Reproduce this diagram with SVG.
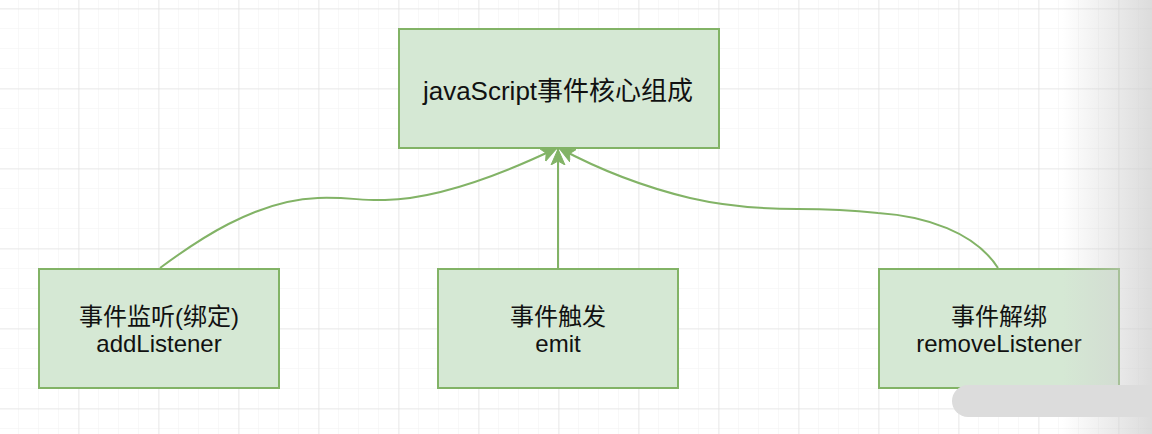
<svg xmlns="http://www.w3.org/2000/svg" width="1152" height="434" viewBox="0 0 1152 434">
  <style>
    .node rect { fill: #d5e8d4; stroke: #82b366; stroke-width: 2; }
    .node text { font-family: "Liberation Sans", "Noto Sans CJK SC", sans-serif; font-size: 24px; fill: #111111; text-anchor: middle; }
    .edge { fill: none; stroke: #82b366; stroke-width: 2; marker-end: url(#arrow); }
  </style>
  <defs>
    <pattern id="minor" width="20" height="20" patternUnits="userSpaceOnUse" x="18" y="8">
      <path d="M0,0 H20 M0,0 V20" fill="none" stroke="#f1f1f1" stroke-width="1"/>
    </pattern>
    <pattern id="major" width="80" height="80" patternUnits="userSpaceOnUse" x="78.5" y="8.5">
      <path d="M0,0 H80 M0,0 V80" fill="none" stroke="#dadada" stroke-width="1"/>
    </pattern>
    <linearGradient id="fade" x1="0" y1="0" x2="1" y2="0">
      <stop offset="0" stop-color="#d0d0d0" stop-opacity="0"/>
      <stop offset="1" stop-color="#d0d0d0" stop-opacity="0.75"/>
    </linearGradient>
    <marker id="arrow" markerUnits="userSpaceOnUse" markerWidth="18" markerHeight="16" viewBox="0 -8 18 16" refX="16" refY="0" orient="auto">
      <path d="M0,-7 L16,0 L0,7 L4,0 Z" fill="#82b366" stroke="#82b366" stroke-width="1"/>
    </marker>
  </defs>
  <rect width="1152" height="434" fill="#ffffff"/>
  <rect width="1152" height="434" fill="url(#minor)"/>
  <rect width="1152" height="434" fill="url(#major)"/>

  <g id="connectors">
    <path class="edge" d="M160,268 C195,242 255,200 318,198 C350,197 362,201 385,200 C430,199 490,180 557,148"/>
    <path class="edge" d="M558,268 L558,149"/>
    <path class="edge" d="M998,268 C975,232 925,216 878,213 C850,210 820,209 798,209 C760,209 720,205 690,198 C640,186 600,170 559,148"/>
  </g>

  <g id="node-core" class="node">
    <rect x="399" y="29" width="320" height="119"/>
    <text x="558" y="100" style="font-size:26px">javaScript事件核心组成</text>
  </g>
  <g id="node-add" class="node">
    <rect x="39" y="269" width="240" height="119"/>
    <text x="159" y="325">事件监听(绑定)</text>
    <text x="159" y="352">addListener</text>
  </g>
  <g id="node-emit" class="node">
    <rect x="438" y="269" width="240" height="119"/>
    <text x="558" y="325">事件触发</text>
    <text x="558" y="352">emit</text>
  </g>
  <g id="node-remove" class="node">
    <rect x="879" y="269" width="240" height="119"/>
    <text x="999" y="325">事件解绑</text>
    <text x="999" y="352">removeListener</text>
  </g>

  <rect x="1062" y="0" width="90" height="434" fill="url(#fade)"/>
  <rect x="952" y="385" width="230" height="32" rx="16" fill="#dcdcdc"/>
</svg>
